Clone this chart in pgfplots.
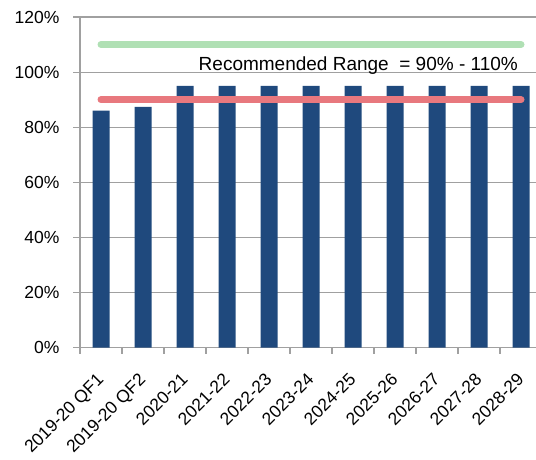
\documentclass[border=0pt]{standalone}
\usepackage{pgfplots}
\pgfplotsset{compat=1.18}
\usepackage{fontspec}
\setmainfont{Liberation Sans}
\definecolor{barblue}{RGB}{31,73,125}
\definecolor{lgreen}{RGB}{176,224,180}
\definecolor{lred}{RGB}{232,120,126}
\definecolor{gridgray}{RGB}{160,160,160}
\begin{document}
\begin{tikzpicture}
\useasboundingbox (0,0) rectangle (536pt,460pt);
\begin{axis}[
  at={(80pt,112.3pt)}, anchor=south west,
  scale only axis, width=456pt, height=330.7pt,
  xmin=-0.5, xmax=10.357, ymin=0, ymax=120,
  axis x line*=bottom, axis y line*=left,
  axis line style={gridgray, line width=1.2pt, -},
  ybar, bar width=17pt,
  ymajorgrids, grid style={gridgray, line width=1.2pt},
  ytick={0,20,...,120},
  yticklabel={\pgfmathprintnumber{\tick}\%},
  xtick={0,...,10},
  xticklabels={2019-20 QF1,2019-20 QF2,2020-21,2021-22,2022-23,2023-24,2024-25,2025-26,2026-27,2027-28,2028-29},
  minor xtick={-0.5,0.5,...,9.5},
  tick align=outside, major tick length=7pt, minor tick length=6pt,
  major x tick style={draw=none},
  minor x tick style={gridgray, line width=1.2pt},
  ytick style={gridgray, line width=1.2pt},
  /pgf/number format/assume math mode=true,
  tick label style={font=\fontsize{17.5}{20}\selectfont, black},
  xticklabel style={xshift=-5pt, yshift=-16pt, rotate=45, anchor=north east, inner sep=1pt},
  yticklabel style={xshift=-10pt},
  clip=false,
]
\addplot[fill=barblue, draw=none] coordinates {
 (0,86) (1,87.4) (2,95) (3,95) (4,95) (5,95) (6,95) (7,95) (8,95) (9,95) (10,95)};
\addplot[sharp plot, lgreen, line width=7pt, line cap=round] coordinates {(0,110) (10,110)};
\addplot[sharp plot, lred, line width=7pt, line cap=round] coordinates {(0,90) (10,90)};
\node[anchor=base east, inner sep=0pt, font=\fontsize{19}{22}\selectfont] at (axis cs:9.93,100.6) {Recommended Range~~= 90\% - 110\%};
\end{axis}
\end{tikzpicture}
\end{document}
